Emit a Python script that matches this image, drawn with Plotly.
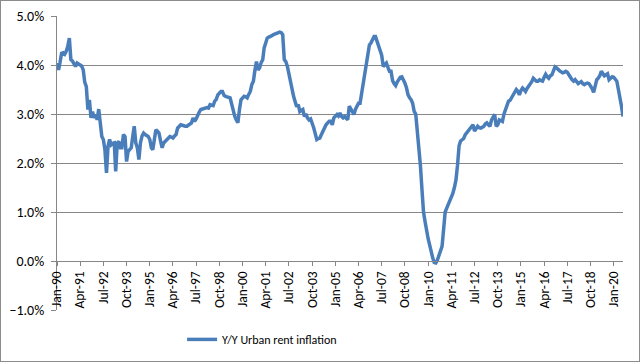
import pandas as pd
import plotly.graph_objects as go

# Monthly Y/Y urban rent inflation (%), Jan-1990 .. Jul-2020
y1990 = [4.04, 3.90, 4.05, 4.24, 4.25, 4.22, 4.28, 4.38, 4.55, 4.11, 4.08, 4.04]
y1991 = [3.97, 4.04, 4.02, 4.00, 3.98, 3.90, 3.65, 3.56, 3.09, 3.29, 2.92, 3.05]
y1992 = [2.92, 2.99, 2.88, 3.10, 2.75, 2.54, 2.48, 2.27, 1.80, 2.34, 2.48, 2.37]
y1993 = [2.40, 2.41, 1.83, 2.41, 2.44, 2.31, 2.31, 2.58, 2.54, 2.03, 2.24, 2.28]
y1994 = [2.31, 2.55, 2.75, 2.41, 2.31, 2.07, 2.41, 2.55, 2.61, 2.58, 2.56, 2.54]
y1995 = [2.48, 2.31, 2.27, 2.54, 2.68, 2.65, 2.61, 2.45, 2.31, 2.41, 2.44, 2.48]
y1996 = [2.50, 2.54, 2.53, 2.51, 2.55, 2.58, 2.71, 2.74, 2.78, 2.77, 2.75, 2.75]
y1997 = [2.75, 2.78, 2.80, 2.82, 2.92, 2.85, 2.90, 2.99, 3.04, 3.09, 3.10, 3.12]
y1998 = [3.12, 3.13, 3.12, 3.19, 3.18, 3.17, 3.26, 3.30, 3.39, 3.43, 3.46, 3.46]
y1999 = [3.38, 3.36, 3.35, 3.34, 3.33, 3.20, 3.05, 2.95, 2.88, 2.82, 3.09, 3.29]
y2000 = [3.33, 3.36, 3.35, 3.33, 3.40, 3.46, 3.60, 3.67, 3.90, 4.07, 3.90, 3.94]
y2001 = [4.05, 4.11, 4.35, 4.45, 4.55, 4.57, 4.58, 4.60, 4.62, 4.63, 4.65, 4.66]
y2002 = [4.67, 4.66, 4.62, 4.11, 4.07, 3.97, 3.80, 3.63, 3.50, 3.36, 3.25, 3.15]
y2003 = [3.19, 3.05, 3.07, 3.09, 2.95, 3.00, 2.92, 2.88, 2.90, 2.82, 2.72, 2.60]
y2004 = [2.48, 2.50, 2.51, 2.58, 2.65, 2.71, 2.78, 2.82, 2.85, 2.85, 2.78, 2.92]
y2005 = [2.95, 2.99, 2.96, 3.02, 2.95, 2.92, 2.95, 2.92, 2.88, 3.16, 3.10, 3.05]
y2006 = [2.99, 3.10, 3.16, 3.22, 3.22, 3.43, 3.63, 3.80, 3.94, 4.18, 4.41, 4.45]
y2007 = [4.52, 4.58, 4.58, 4.48, 4.41, 4.31, 4.20, 3.97, 4.00, 4.04, 3.95, 3.87]
y2008 = [3.87, 3.68, 3.62, 3.58, 3.65, 3.70, 3.75, 3.76, 3.70, 3.63, 3.53, 3.39]
y2009 = [3.33, 3.29, 3.22, 3.05, 3.00, 2.70, 2.30, 1.95, 1.45, 1.00, 0.80, 0.60]
y2010 = [0.45, 0.32, 0.18, 0.06, -0.03, -0.04, 0.02, 0.12, 0.20, 0.30, 0.65, 1.00]
y2011 = [1.08, 1.15, 1.22, 1.30, 1.38, 1.50, 1.65, 1.95, 2.35, 2.45, 2.47, 2.50]
y2012 = [2.58, 2.62, 2.68, 2.72, 2.76, 2.78, 2.65, 2.70, 2.75, 2.72, 2.71, 2.73]
y2013 = [2.75, 2.80, 2.82, 2.78, 2.75, 2.88, 2.92, 2.99, 2.75, 2.78, 2.88, 2.86]
y2014 = [2.85, 3.00, 3.08, 3.16, 3.26, 3.28, 3.33, 3.39, 3.43, 3.50, 3.46, 3.39]
y2015 = [3.48, 3.53, 3.50, 3.46, 3.52, 3.56, 3.62, 3.66, 3.73, 3.70, 3.67, 3.67]
y2016 = [3.70, 3.68, 3.67, 3.75, 3.81, 3.76, 3.73, 3.78, 3.80, 3.88, 3.96, 3.94]
y2017 = [3.90, 3.88, 3.86, 3.84, 3.85, 3.87, 3.85, 3.78, 3.75, 3.70, 3.67, 3.70]
y2018 = [3.65, 3.62, 3.64, 3.66, 3.62, 3.60, 3.62, 3.63, 3.62, 3.58, 3.52, 3.44]
y2019 = [3.55, 3.70, 3.73, 3.78, 3.87, 3.82, 3.78, 3.80, 3.82, 3.70, 3.73, 3.76]
y2020 = [3.75, 3.72, 3.67, 3.50, 3.35, 3.16, 2.95]

series_name = "Y/Y Urban rent inflation"
start_month = "1990-01-01"

values = (y1990 + y1991 + y1992 + y1993 + y1994 + y1995 + y1996 + y1997 + y1998 +
          y1999 + y2000 + y2001 + y2002 + y2003 + y2004 + y2005 + y2006 + y2007 +
          y2008 + y2009 + y2010 + y2011 + y2012 + y2013 + y2014 + y2015 + y2016 +
          y2017 + y2018 + y2019 + y2020)
dates = pd.date_range(start_month, periods=len(values), freq="MS")

tick_dates = list(dates[::15])
tick_text = [d.strftime("%b-%y") for d in tick_dates]

FONT = "Carlito, 'Liberation Sans Narrow', 'Liberation Sans', Arial, sans-serif"
GRID = "#878787"
BORDER = "#8c8c8c"

fig = go.Figure()
fig.add_trace(go.Scatter(
    x=dates, y=values, mode="lines", name=series_name,
    line=dict(color="#4A7EBB", width=3.5),
))

fig.update_layout(
    width=640, height=362,
    margin=dict(l=57, r=17, t=16, b=52, autoexpand=False),
    paper_bgcolor="white", plot_bgcolor="white",
    font=dict(family=FONT, size=13, color="#000000"),
    showlegend=True,
    legend=dict(orientation="h", x=0.221, xanchor="left", y=-0.1, yanchor="middle",
                font=dict(size=12), bgcolor="rgba(0,0,0,0)"),
    xaxis=dict(
        type="date",
        range=[dates[0], dates[-1]],
        tickvals=tick_dates, ticktext=tick_text,
        tickangle=-90, tickfont=dict(size=13.5),
        showgrid=False, zeroline=False,
        showline=True, linecolor=GRID, linewidth=1,
        ticks="outside", ticklen=4, tickcolor=GRID,
        anchor="free", position=1/6, automargin=False,
    ),
    yaxis=dict(
        range=[-1, 5], dtick=1, tick0=0,
        tickformat=".1f", ticksuffix="%",
        showgrid=True, gridcolor=GRID, gridwidth=1,
        zeroline=False,
        showline=True, linecolor=GRID, linewidth=1,
        ticks="outside", ticklen=5, tickcolor=GRID,
        tickfont=dict(size=14), ticklabelstandoff=4, automargin=False,
    ),
)

# chart-area border drawn with CSS on the page (outside the plot area)
post = ("document.body.style.margin='0';"
        "var s=document.createElement('style');"
        "s.textContent='.plotly-graph-div{box-sizing:border-box;}"
        ".plotly-graph-div::after{content:\"\";position:absolute;left:0;top:0;"
        "width:640px;height:362px;box-sizing:border-box;border:1px solid " + BORDER + ";"
        "pointer-events:none;z-index:1000;}';"
        "document.head.appendChild(s);"
        "document.querySelectorAll('.plotly-graph-div').forEach(function(d){d.style.position='relative';});")

fig.write_html("out.html", post_script=post, config={"displayModeBar": False})
